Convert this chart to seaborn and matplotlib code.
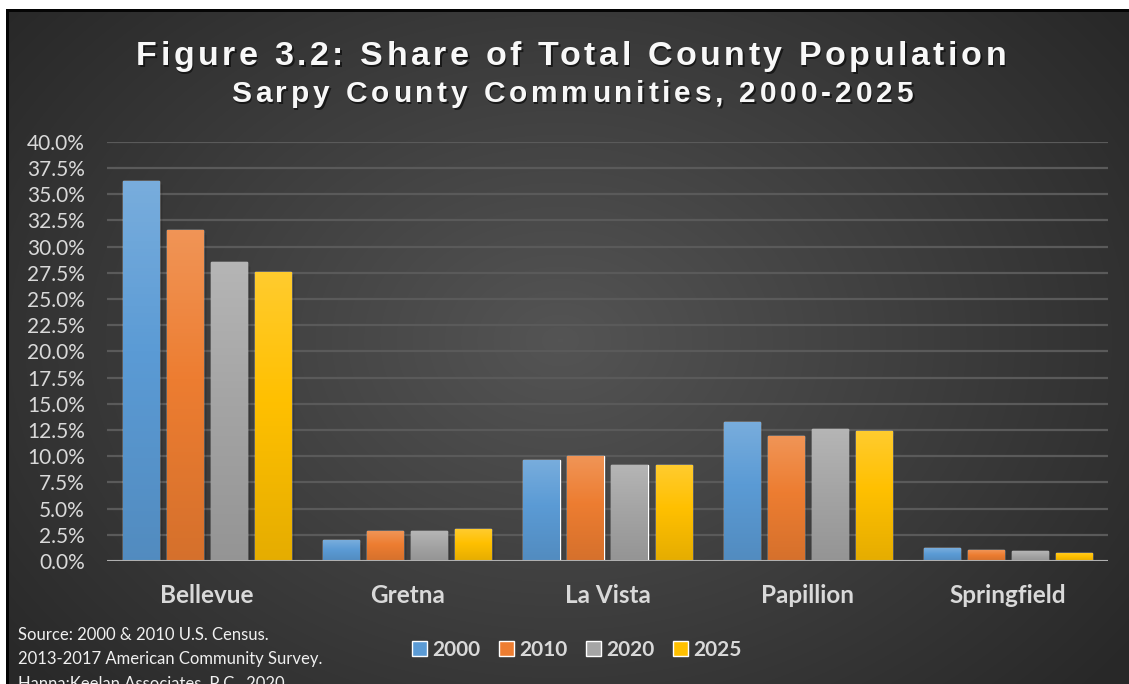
import numpy as np
import pandas as pd
import seaborn as sns
import matplotlib
matplotlib.use('Agg')
import matplotlib.pyplot as plt
from matplotlib.colors import LinearSegmentedColormap, to_rgb
from matplotlib.patches import Rectangle
from matplotlib.font_manager import FontProperties

communities = ['Bellevue', 'Gretna', 'La Vista', 'Papillion', 'Springfield']
years = ['2000', '2010', '2020', '2025']
share_2000 = [36.3, 2.0, 9.65, 13.3, 1.2]
share_2010 = [31.6, 2.85, 10.0, 11.9, 1.05]
share_2020 = [28.5, 2.85, 9.2, 12.6, 0.9]
share_2025 = [27.6, 3.05, 9.15, 12.4, 0.8]
yticks = np.arange(0, 40.1, 2.5)

colors = ['#5B9BD5', '#ED7D31', '#A5A5A5', '#FFC000']

df = pd.DataFrame({
    'Community': communities * 4,
    'Year': [y for y in years for _ in communities],
    'Share': share_2000 + share_2010 + share_2020 + share_2025,
})

sns.set_theme(style='dark')
plt.rcParams['font.family'] = ['Lato', 'DejaVu Sans']

W, H = 1129, 684
fig = plt.figure(figsize=(W / 100, H / 100), dpi=100)

# radial gradient background for the chart area
bg = fig.add_axes([0, 0, 1, 1], zorder=0)
yy, xx = np.mgrid[0:H, 0:W]
r = np.sqrt(((xx - 560) / 700.0) ** 2 + ((yy - 340) / 520.0) ** 2)
shade = np.clip(0.33 - 0.17 * r, 0.16, 0.33)
img = np.dstack([shade, shade, shade])
img[:9, :, :] = 1.0  # white strip on top
img[9:12, 7:, :] = 0.02  # dark frame line
img[9:, 6:9, :] = 0.02
img[:, :6, :] = 1.0
bg.imshow(img, aspect='auto', extent=[0, 1, 0, 1], origin='upper')
bg.axis('off')

ax = fig.add_axes([0.0948, 0.180, 0.8866, 0.6125], zorder=1)
ax.set_facecolor('none')
sns.barplot(data=df, x='Community', y='Share', hue='Year', palette=colors,
            width=0.88, gap=0.18, ax=ax, zorder=3, saturation=1, legend=True)

# vertical gradient in each bar plus a soft shadow
for patch in list(ax.patches):
    h = patch.get_height()
    if h <= 0:
        continue
    x0, w = patch.get_x(), patch.get_width()
    c = np.array(to_rgb(patch.get_facecolor()))
    top = c + (1 - c) * 0.18
    cmap = LinearSegmentedColormap.from_list('g', [(0, c * 0.9), (0.55, c), (1, top)])
    grad = np.linspace(0, 1, 100).reshape(-1, 1)
    im = ax.imshow(grad, cmap=cmap, aspect='auto', origin='lower',
                   extent=[x0, x0 + w, 0, h], zorder=3)
    im.set_clip_path(patch)
    for k, a in enumerate([0.12, 0.08, 0.05]):
        ax.add_patch(Rectangle((x0 + 0.006 * (k + 1), 0), w, h - 0.15 * (k + 1),
                               color='black', alpha=a, zorder=2, lw=0))

ax.set_xlim(-0.5, 4.5)
ax.set_ylim(0, 40)
ax.set_yticks(yticks)
ax.set_yticklabels([f'{v:.1f}%' for v in yticks])
ax.yaxis.grid(True, color='#5a5a5a', linewidth=1.6, zorder=1)
ax.xaxis.grid(False)
for s in ax.spines.values():
    s.set_visible(False)
ax.axhline(0, color='#b0b0b0', linewidth=2.2, zorder=4)
ax.tick_params(axis='y', labelsize=15, labelcolor='#d9d9d9', pad=16, length=0)
ax.tick_params(axis='x', labelsize=17.5, labelcolor='#d9d9d9', pad=17, length=0)
for t in ax.get_xticklabels():
    t.set_fontweight('bold')
ax.set_xlabel('')
ax.set_ylabel('')

handles, labels = ax.get_legend_handles_labels()
ax.legend_.remove()
leg = fig.legend(handles, labels, loc='center', bbox_to_anchor=(0.511, 0.05), ncol=4,
                 frameon=False, handlelength=0.72, handleheight=0.7, handletextpad=0.25,
                 columnspacing=0.9, prop={'weight': 'bold', 'size': 15})
for t in leg.get_texts():
    t.set_color('#d9d9d9')


def spaced_text(s, xc, y, size, total_px, color, shadow):
    # draw a title with extra letter spacing, one glyph at a time
    fp = FontProperties(family='Liberation Sans', weight='bold', size=size)
    rend = fig.canvas.get_renderer()

    def width(t):
        return rend.get_text_width_height_descent(t, fp, ismath=False)[0]

    spacing = (total_px - width(s)) / (len(s) - 1)
    left = xc - total_px / 2
    for i, ch in enumerate(s):
        if ch == ' ':
            continue
        x = left + width(s[:i + 1]) - width(ch) + i * spacing
        fig.text((x + 1.5) / W, y - 2 / H, ch, ha='left', va='baseline',
                 fontproperties=fp, color=shadow, alpha=0.8)
        fig.text(x / W, y, ch, ha='left', va='baseline', fontproperties=fp, color=color)


spaced_text('Figure 3.2: Share of Total County Population', 571, 1 - 65 / H, 24.5, 870, '#f8f8f8', '#111111')
spaced_text('Sarpy County Communities, 2000-2025', 572, 1 - 102 / H, 21.5, 682, '#f8f8f8', '#111111')

src = ['Source: 2000 & 2010 U.S. Census.', '2013-2017 American Community Survey.',
       'Hanna:Keelan Associates, P.C., 2020.']
for i, line in enumerate(src):
    fig.text(0.016, 0.072 - i * 0.036, line, ha='left', va='center', fontsize=12, color='#f0f0f0')

plt.savefig('out.png', dpi=100)
plt.close()
